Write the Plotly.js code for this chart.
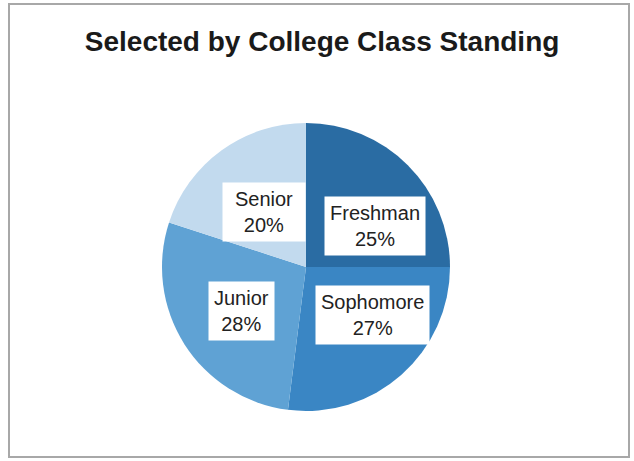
<!DOCTYPE html>
<html>
<head>
<meta charset="utf-8">
<script src="https://cdn.plot.ly/plotly-3.0.1.min.js"></script>
<style>
  html, body { margin: 0; padding: 0; background: #ffffff; }
  #wrap { position: relative; width: 634px; height: 461px; overflow: hidden; }
  #chart { position: absolute; left: 0; top: 0; width: 634px; height: 461px; }
  #frame { position: absolute; left: 8px; top: 3px; width: 622px; height: 455px;
           border: 2px solid #a8a8a8; pointer-events: none; box-sizing: border-box; }
</style>
</head>
<body>
<div id="wrap">
  <div id="chart"></div>
  <div id="frame"></div>
</div>
<script>
// ---- data ----
const categories = ["Freshman", "Sophomore", "Junior", "Senior"];
const percents = [25, 27, 28, 20];
const sliceColors = ["#2a6ca3", "#3a86c4", "#5fa2d4", "#c2daee"];

// ---- geometry / style (not data) ----
const W = 634, H = 461;
const CX = 306, CY = 267, R = 144;
const labelRadius = 0.56;
const labelNudge = [[12, 16], [13, -12], [4, 1], [5, 10]]; // fine offsets in px
const labelWidth = [null, null, null, 72];

const total = percents.reduce((a, b) => a + b, 0);
let cum = 0;
const annotations = [];
percents.forEach((v, i) => {
  const mid = (cum + v / 2) / total * 2 * Math.PI; // clockwise from 12 o'clock
  cum += v;
  const px = CX + R * labelRadius * Math.sin(mid) + labelNudge[i][0];
  const py = CY - R * labelRadius * Math.cos(mid) + labelNudge[i][1];
  const ann = {
    xref: "paper", yref: "paper",
    x: px / W, y: 1 - py / H,
    xanchor: "center", yanchor: "middle",
    text: categories[i] + "<br>" + v + "%",
    showarrow: false,
    bgcolor: "#ffffff",
    borderpad: 5,
    font: { family: "Liberation Sans, Arial, sans-serif", size: 20, color: "#222222" }
  };
  if (labelWidth[i]) ann.width = labelWidth[i];
  annotations.push(ann);
});

const trace = {
  type: "pie",
  labels: categories,
  values: percents,
  sort: false,
  direction: "clockwise",
  rotation: 0,
  textinfo: "none",
  hoverinfo: "label+percent",
  marker: { colors: sliceColors, line: { width: 0 } },
  domain: { x: [(CX - R) / W, (CX + R) / W], y: [1 - (CY + R) / H, 1 - (CY - R) / H] },
  showlegend: false
};

const layout = {
  width: W, height: H,
  margin: { l: 0, r: 0, t: 0, b: 0 },
  paper_bgcolor: "#ffffff",
  title: {
    text: "<b>Selected by College Class Standing</b>",
    font: { family: "Liberation Sans, Arial, sans-serif", size: 28, color: "#1a1a1a" },
    x: 0.508, xanchor: "center",
    y: 1 - 41 / H, yanchor: "middle"
  },
  annotations: annotations,
  showlegend: false
};

Plotly.newPlot("chart", [trace], layout, { displayModeBar: false, staticPlot: true });
</script>
</body>
</html>
